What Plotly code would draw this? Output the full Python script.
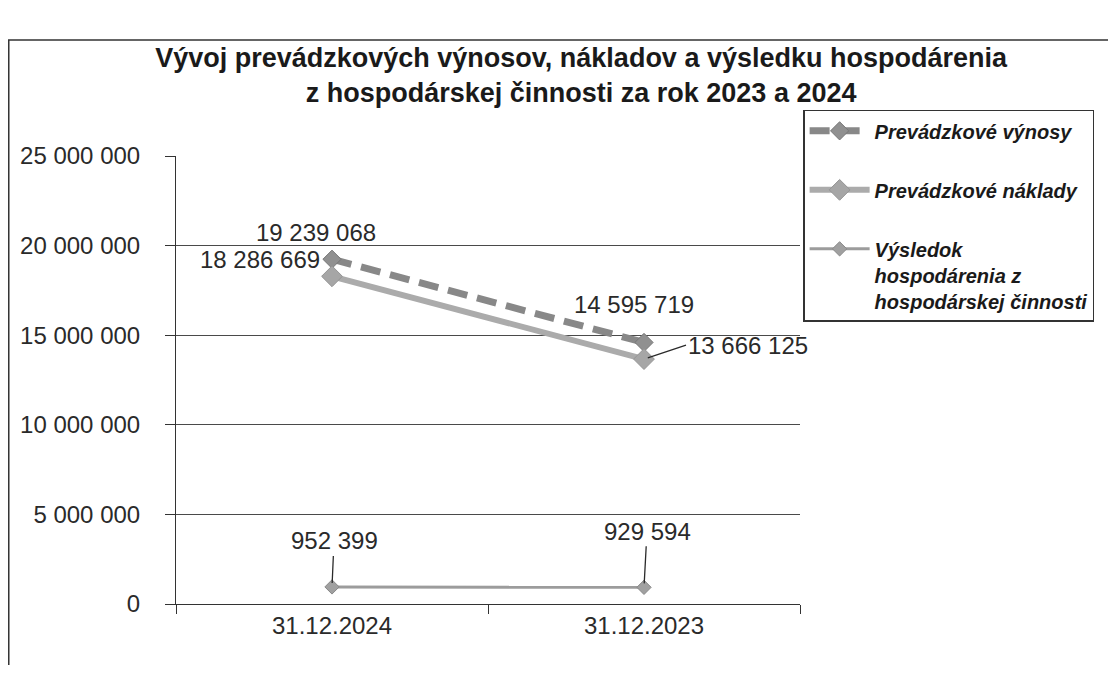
import plotly.graph_objects as go

categories = ["31.12.2024", "31.12.2023"]
vynosy = [19239068, 14595719]
naklady = [18286669, 13666125]
vysledok = [952399, 929594]
series_names = ["Prevádzkové výnosy", "Prevádzkové náklady",
                "Výsledok<br>hospodárenia z<br>hospodárskej činnosti"]
tick_vals = [0, 5000000, 10000000, 15000000, 20000000, 25000000]
tick_text = ["0", "5 000 000", "10 000 000", "15 000 000", "20 000 000", "25 000 000"]


def fmt(v):
    return f"{v:,}".replace(",", " ")


FONT = "Liberation Sans, Arial, sans-serif"
TXT = "#2a2a2a"
fig = go.Figure()
fig.add_trace(go.Scatter(x=categories, y=vynosy, name=series_names[0], mode="lines+markers",
                         line=dict(color="#888888", width=7, dash="20px,10px"),
                         marker=dict(symbol="diamond", size=14, color="#909090",
                                     line=dict(color="#777", width=1)),
                         legendgroup="a"))
fig.add_trace(go.Scatter(x=categories, y=naklady, name=series_names[1], mode="lines+markers",
                         line=dict(color="#ababab", width=6),
                         marker=dict(symbol="diamond", size=16, color="#a6a6a6",
                                     line=dict(color="#959595", width=1)),
                         legendgroup="b"))
fig.add_trace(go.Scatter(x=categories, y=vysledok, name=series_names[2], mode="lines+markers",
                         line=dict(color="#9c9c9c", width=3),
                         marker=dict(symbol="diamond", size=11, color="#a0a0a0",
                                     line=dict(color="#888", width=1)),
                         legendgroup="c"))

lab = dict(font=dict(family=FONT, size=24, color=TXT), showarrow=False)
fig.add_annotation(x=categories[0], y=vynosy[0], text=fmt(vynosy[0]), xshift=-16, yshift=27, **lab)
fig.add_annotation(x=categories[0], y=naklady[0], text=fmt(naklady[0]), xanchor="right", xshift=-10, yshift=17, **lab)
fig.add_annotation(x=categories[1], y=vynosy[1], text=fmt(vynosy[1]), xshift=-10, yshift=38, **lab)
arrow = dict(showarrow=True, arrowhead=0, arrowwidth=1.3, arrowcolor=TXT, standoff=4,
             font=dict(family=FONT, size=24, color=TXT))
fig.add_annotation(x=categories[1], y=naklady[1], text=fmt(naklady[1]), xanchor="left",
                   ax=42, ay=-14, **arrow)
fig.add_annotation(x=categories[0], y=vysledok[0], text=fmt(vysledok[0]), ax=2, ay=-46, **arrow)
fig.add_annotation(x=categories[1], y=vysledok[1], text=fmt(vysledok[1]), ax=3, ay=-56, **arrow)

# outer chart border
fig.add_shape(type="rect", xref="paper", yref="paper", x0=-0.268, x1=1.6, y0=-0.145, y1=1.259,
              line=dict(color="#333", width=1.5), layer="below")

fig.update_layout(
    width=1100, height=657,
    margin=dict(l=165, r=308, t=148, b=61),
    paper_bgcolor="white", plot_bgcolor="white",
    title=dict(text="<b>Vývoj prevádzkových výnosov, nákladov a výsledku hospodárenia<br>z hospodárskej činnosti za rok 2023 a 2024</b>",
               x=0.521, xanchor="center", y=0.91, yanchor="middle",
               font=dict(family=FONT, size=27, color="#1a1a1a")),
    legend=dict(x=1.005, y=1.103, xanchor="left", yanchor="top", valign="top",
                bordercolor="#333", borderwidth=1.5, bgcolor="white",
                font=dict(family=FONT, size=20, color="#1a1a1a", style="italic", weight="bold"),
                tracegroupgap=30, traceorder="grouped", itemwidth=60),
    showlegend=True,
    xaxis=dict(showgrid=False, showline=True, linecolor="#333", linewidth=1,
               ticks="outside", ticklen=9, tickcolor="#333", tickson="boundaries",
               tickfont=dict(family=FONT, size=24, color=TXT),
               range=[-0.5, 1.5]),
    yaxis=dict(range=[0, 25000000], tickvals=tick_vals, ticktext=tick_text,
               showgrid=True, gridcolor="#4a4a4a", gridwidth=1,
               showline=True, linecolor="#333", linewidth=1,
               ticks="outside", ticklen=10, tickcolor="#333", ticklabelstandoff=20,
               tickfont=dict(family=FONT, size=24, color=TXT), zeroline=False),
)
fig.write_html("out.html")
